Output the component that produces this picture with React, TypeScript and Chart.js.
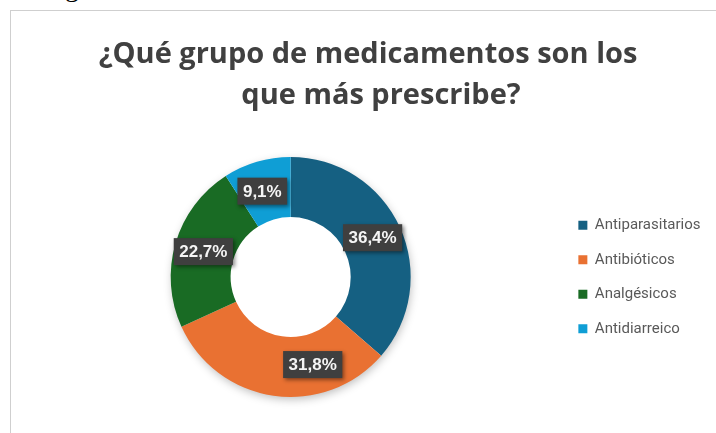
import React, { useEffect, useRef } from 'react';
import { Chart, registerables } from 'chart.js';

Chart.register(...registerables);

const categories = ['Antiparasitarios', 'Antibióticos', 'Analgésicos', 'Antidiarreico'];
const values = [36.4, 31.8, 22.7, 9.1];
const colors = ['#156082', '#E97132', '#196B24', '#0F9ED5'];
const titleLines = ['¿Qué grupo de medicamentos son los', 'que más prescribe?'];

const formatPct = (v: number) => v.toFixed(1).replace('.', ',') + '%';

const ringShadow = {
  id: 'ringShadow',
  beforeDatasetsDraw(chart: any) {
    const meta = chart.getDatasetMeta(0);
    const arc = meta.data[0];
    if (!arc) return;
    const { x, y, outerRadius } = arc.getProps(['x', 'y', 'outerRadius'], true);
    const ctx = chart.ctx;
    ctx.save();
    ctx.shadowColor = 'rgba(0,0,0,0.28)';
    ctx.shadowBlur = 10;
    ctx.shadowOffsetX = 1;
    ctx.shadowOffsetY = 3;
    ctx.fillStyle = '#ffffff';
    ctx.beginPath();
    ctx.arc(x, y, outerRadius - 1, 0, Math.PI * 2);
    ctx.fill();
    ctx.restore();
  },
};

const valueBoxes = {
  id: 'valueBoxes',
  afterDatasetsDraw(chart: any, _args: any, opts: any) {
    const ctx = chart.ctx;
    const meta = chart.getDatasetMeta(0);
    const data = chart.data.datasets[0].data as number[];
    ctx.save();
    ctx.font = 'bold 17px "Liberation Sans", Arial, sans-serif';
    meta.data.forEach((el: any, i: number) => {
      const { x, y, startAngle, endAngle, innerRadius, outerRadius } = el.getProps(
        ['x', 'y', 'startAngle', 'endAngle', 'innerRadius', 'outerRadius'],
        true
      );
      const mid = (startAngle + endAngle) / 2;
      const r = (innerRadius + outerRadius) / 2;
      const nudge = (opts.nudge && opts.nudge[i]) || [0, 0];
      const cx = x + Math.cos(mid) * r + nudge[0];
      const cy = y + Math.sin(mid) * r + nudge[1];
      const text = formatPct(data[i]);
      const w = ctx.measureText(text).width + 11;
      const h = 27;
      ctx.shadowColor = 'rgba(0,0,0,0.45)';
      ctx.shadowBlur = 4;
      ctx.shadowOffsetX = 2;
      ctx.shadowOffsetY = 2;
      ctx.fillStyle = '#3f3f3f';
      ctx.fillRect(cx - w / 2, cy - h / 2, w, h);
      ctx.shadowColor = 'rgba(0,0,0,0)';
      ctx.shadowBlur = 0;
      ctx.shadowOffsetX = 0;
      ctx.shadowOffsetY = 0;
      ctx.fillStyle = '#f5f5f5';
      ctx.textAlign = 'center';
      ctx.textBaseline = 'middle';
      ctx.fillText(text, cx, cy + 1);
    });
    ctx.restore();
  },
};

const titlePlugin = {
  id: 'titleLines',
  afterDraw(chart: any, _args: any, opts: any) {
    const ctx = chart.ctx;
    ctx.save();
    ctx.font = 'bold 29px "Open Sans", sans-serif';
    ctx.fillStyle = '#404040';
    ctx.textAlign = 'center';
    ctx.textBaseline = 'alphabetic';
    titleLines.forEach((line, i) => {
      ctx.fillText(line, opts.x[i], opts.baseline[i]);
    });
    ctx.restore();
  },
};

export default function App() {
  const canvasRef = useRef<HTMLCanvasElement | null>(null);

  useEffect(() => {
    if (!canvasRef.current) return;
    const chart = new Chart(canvasRef.current, {
      type: 'doughnut',
      data: {
        labels: categories,
        datasets: [
          {
            data: values,
            backgroundColor: colors,
            borderWidth: 0,
            hoverOffset: 0,
          },
        ],
      },
      options: {
        animation: false,
        responsive: false,
        maintainAspectRatio: false,
        cutout: '50%',
        layout: { padding: { top: 146, left: 11.5, right: 24.5, bottom: 36 } },
        plugins: {
          title: { display: false },
          tooltip: { enabled: false },
          legend: {
            position: 'right',
            labels: {
              boxWidth: 9,
              boxHeight: 9,
              padding: 19.5,
              color: '#595959',
              font: { family: 'Roboto, sans-serif', size: 15 },
            },
          },
          valueBoxes: { nudge: [[0, -2], [35, -1.5], [-1, 0], [-3, 0.5]] },
          titleLines: { x: [357, 370], baseline: [52, 93] },
        } as any,
      },
      plugins: [ringShadow, valueBoxes, titlePlugin],
    });
    return () => chart.destroy();
  }, []);

  return (
    <div style={{ position: 'fixed', inset: 0, overflow: 'hidden', background: '#ffffff' }}>
      <div
        style={{
          position: 'absolute',
          left: 41.6,
          top: -27,
          fontFamily: '"Liberation Serif", "Times New Roman", serif',
          fontSize: 28,
          lineHeight: '28px',
          color: '#000000',
          whiteSpace: 'nowrap',
        }}
      >
        Figura
      </div>
      <div
        style={{
          position: 'absolute',
          left: 10,
          top: 10,
          width: 800,
          height: 500,
          border: '1px solid #cfcfcf',
          boxSizing: 'border-box',
        }}
      />
      <canvas
        ref={canvasRef}
        width={724}
        height={422}
        style={{ position: 'absolute', left: 11, top: 11, width: 724, height: 422 }}
      />
    </div>
  );
}
